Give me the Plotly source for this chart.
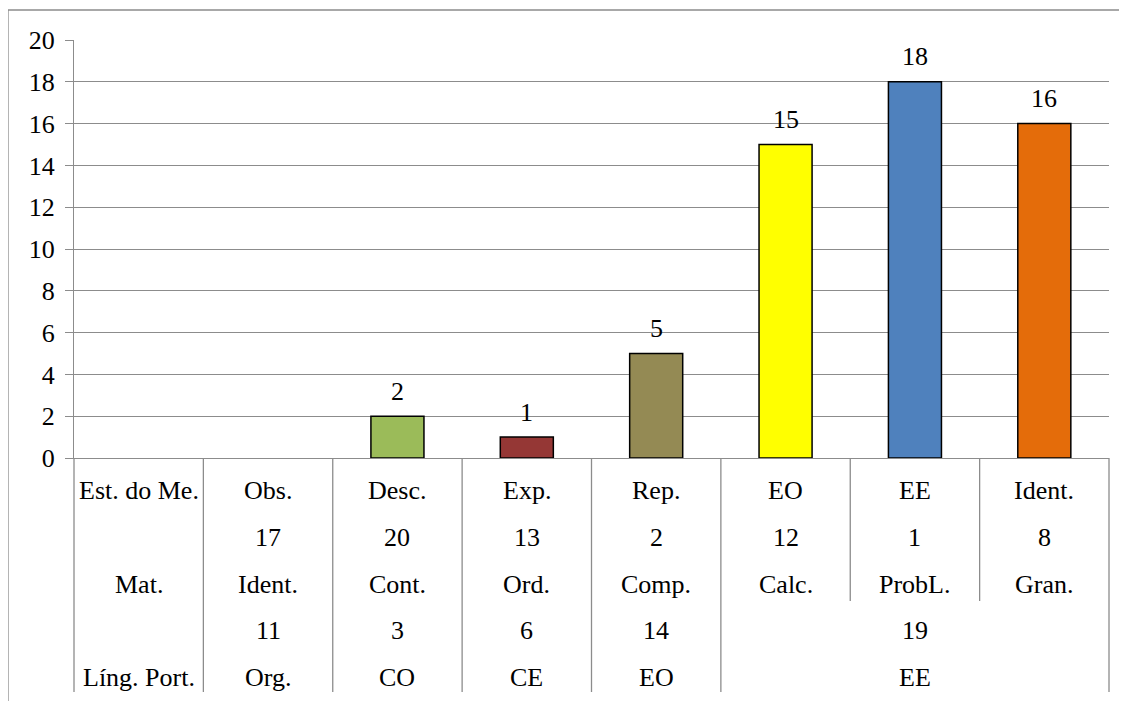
import plotly.graph_objects as go

# categorias (primeira linha da tabela) e valores das barras
categorias = ["Est. do Me.", "Obs.", "Desc.", "Exp.", "Rep.", "EO", "EE", "Ident."]
valores = [None, None, 2, 1, 5, 15, 18, 16]
cores = ["#FFFFFF", "#FFFFFF", "#9BBB59", "#953735", "#948A54", "#FFFF00", "#4F81BD", "#E46C0A"]

# linhas da tabela abaixo do eixo
linha2 = ["", "17", "20", "13", "2", "12", "1", "8"]
linha3 = ["Mat.", "Ident.", "Cont.", "Ord.", "Comp.", "Calc.", "ProbL.", "Gran."]
linha4 = ["", "11", "3", "6", "14", "19"]      # ultimo valor ocupa as colunas 6-8
linha5 = ["Líng. Port.", "Org.", "CO", "CE", "EO", "EE"]

# a pagina tem margem de 8px, por isso tudo e deslocado
OFF = 8
W, H = 1127 - OFF, 701 - OFF
L, R, T, B = 74 - OFF, 1109 - OFF, 40 - OFF, 458 - OFF
FONTE = "Liberation Serif"
TAM = 26
CINZA = "#8C8C8C"


def px(xp):
    return (xp - OFF - L) / (R - L)


def py(yp):
    return (B - (yp - OFF)) / (B - T)


fig = go.Figure()
fig.add_trace(go.Bar(
    x=categorias,
    y=valores,
    marker=dict(color=cores, line=dict(color="black", width=1.5)),
    hoverinfo="skip",
))

# rotulos de dados
for c, v in zip(categorias, valores):
    if v is None:
        continue
    fig.add_annotation(x=c, y=v, text=str(v), showarrow=False, yshift=25,
                       yanchor="middle", font=dict(family=FONTE, size=TAM, color="black"))

# texto da tabela
linhas_y = [490, 537, 584, 630, 677]
linhas = [categorias, linha2, linha3]
for yy, linha in zip(linhas_y[:3], linhas):
    for c, t in zip(categorias, linha):
        if t:
            fig.add_annotation(x=c, y=py(yy), yref="paper", text=t, showarrow=False,
                               yanchor="middle", font=dict(family=FONTE, size=TAM, color="black"))
for yy, linha in zip(linhas_y[3:], [linha4, linha5]):
    for i, t in enumerate(linha):
        if not t:
            continue
        c = categorias[i] if i < 5 else categorias[6]
        fig.add_annotation(x=c, y=py(yy), yref="paper", text=t, showarrow=False,
                           yanchor="middle", font=dict(family=FONTE, size=TAM, color="black"))

# linhas verticais da tabela
n = len(categorias)
for i in range(n + 1):
    fim = 601 if i in (6, 7) else 692
    fig.add_shape(type="line", xref="paper", yref="paper",
                  x0=i / n, x1=i / n, y0=0, y1=py(fim),
                  line=dict(color=CINZA, width=1.3))

# borda externa do grafico
fig.add_shape(type="rect", xref="paper", yref="paper",
              x0=px(8), x1=px(1140), y0=py(10), y1=py(720),
              line=dict(color=CINZA, width=1.3), fillcolor="rgba(0,0,0,0)", layer="below")

fig.update_layout(
    width=W, height=H,
    margin=dict(l=L, r=W - R, t=T, b=H - B),
    plot_bgcolor="white", paper_bgcolor="white",
    bargap=0.59,
    showlegend=False,
    font=dict(family=FONTE),
    xaxis=dict(type="category", showticklabels=False, showgrid=False,
               showline=True, linecolor=CINZA, linewidth=1.3, ticks="", range=[-0.5, 7.5]),
    yaxis=dict(range=[0, 20], dtick=2, showgrid=True, gridcolor=CINZA, gridwidth=1.3,
               showline=True, linecolor=CINZA, linewidth=1.3, ticks="outside", ticklen=8,
               tickcolor=CINZA, zeroline=False, ticklabelstandoff=5,
               tickfont=dict(family=FONTE, size=TAM, color="black")),
)

fig.write_html("out.html")
